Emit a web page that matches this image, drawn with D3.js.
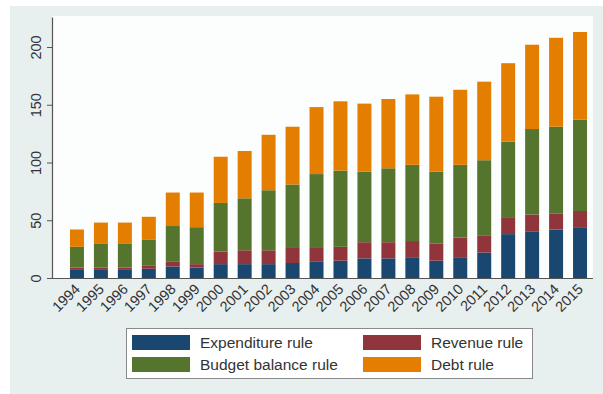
<!DOCTYPE html>
<html>
<head>
<meta charset="utf-8">
<script src="https://cdn.jsdelivr.net/npm/d3@7"></script>
<style>
  body { margin: 0; background: #ffffff; }
  svg { display: block; font-family: "Liberation Sans", Arial, sans-serif; }
</style>
</head>
<body>
<div class="chart"></div>
<script>
// Data (number of fiscal rules by type)
const years = ["1994", "1995", "1996", "1997", "1998", "1999", "2000", "2001", "2002", "2003", "2004",
  "2005", "2006", "2007", "2008", "2009", "2010", "2011", "2012", "2013", "2014", "2015"];
const expenditureRule = [7, 7, 7, 8, 10, 9, 12, 12, 12, 13, 14, 15, 17, 17, 18, 15, 18, 22, 38, 40, 42, 44];
const revenueRule = [2, 2, 2, 3, 4, 3, 11, 12, 12, 13, 12, 12, 14, 14, 14, 15, 17, 15, 14, 15, 14, 14];
const budgetBalanceRule = [18, 21, 21, 22, 31, 32, 42, 45, 52, 55, 64, 66, 61, 64, 66, 62, 63, 65, 66, 74, 75, 79];
const debtRule = [15, 18, 18, 20, 29, 30, 40, 41, 48, 50, 58, 60, 59, 60, 61, 65, 65, 68, 68, 73, 77, 76];
const yTicks = [0, 50, 100, 150, 200];

const seriesNames = ["Expenditure rule", "Revenue rule", "Budget balance rule", "Debt rule"];
const seriesColors = ["#1a476f", "#90353b", "#55752f", "#e37e00"];

// Build a table for d3.stack
const table = years.map((yr, i) => ({
  year: yr,
  "Expenditure rule": expenditureRule[i],
  "Revenue rule": revenueRule[i],
  "Budget balance rule": budgetBalanceRule[i],
  "Debt rule": debtRule[i]
}));

const width = 603, height = 394;
const plot = { left: 52, right: 593, top: 16, bottom: 278 };

const svg = d3.select(".chart")
  .append("svg")
  .attr("width", width)
  .attr("height", height);

// Graph region and plot region backgrounds
svg.append("rect")
  .attr("x", 10).attr("y", 6)
  .attr("width", width - 10).attr("height", height - 6)
  .attr("fill", "#e8efef");
svg.append("rect")
  .attr("x", plot.left).attr("y", plot.top)
  .attr("width", plot.right - plot.left).attr("height", plot.bottom - plot.top)
  .attr("fill", "#fcfefe");

// Scales
const x = d3.scaleBand()
  .domain(years)
  .range([60, 597])
  .padding(0.416);

const y = d3.scaleLinear()
  .domain([0, 226])
  .range([plot.bottom, plot.top + 1]);

const color = d3.scaleOrdinal().domain(seriesNames).range(seriesColors);

// Stacked bars
const stacked = d3.stack().keys(seriesNames)(table);

svg.append("g")
  .selectAll("g")
  .data(stacked)
  .join("g")
  .attr("fill", d => color(d.key))
  .selectAll("rect")
  .data(d => d)
  .join("rect")
  .attr("x", d => x(d.data.year))
  .attr("y", d => y(d[1]))
  .attr("width", x.bandwidth())
  .attr("height", d => y(d[0]) - y(d[1]));

// Y axis
const yAxis = svg.append("g")
  .attr("transform", `translate(${plot.left},0)`)
  .call(d3.axisLeft(y).tickValues(yTicks).tickSize(5).tickPadding(5).tickSizeOuter(0));
yAxis.select(".domain").attr("stroke", "#555").attr("stroke-width", 1.2);
yAxis.selectAll(".tick line").attr("stroke", "#555");
yAxis.selectAll(".tick text")
  .attr("font-size", 14.5)
  .attr("fill", "#333")
  .attr("text-anchor", "middle")
  .attr("x", 0)
  .attr("y", 0)
  .attr("dy", 0)
  .attr("transform", "translate(-11,0) rotate(-90)");

// X axis
const xAxis = svg.append("g")
  .attr("transform", `translate(0,${plot.bottom})`)
  .call(d3.axisBottom(x).tickSize(0).tickSizeOuter(0));
xAxis.select(".domain")
  .attr("d", `M${plot.left},0.5H${plot.right}`)
  .attr("stroke", "#555").attr("stroke-width", 1.2);
xAxis.selectAll(".tick text")
  .attr("font-size", 14.5)
  .attr("fill", "#333")
  .attr("text-anchor", "end")
  .attr("y", 0)
  .attr("dy", 0)
  .attr("transform", "translate(4,12) rotate(-45)");

// Legend
const legend = svg.append("g");
legend.append("rect")
  .attr("x", 126.5).attr("y", 328.5)
  .attr("width", 406).attr("height", 50)
  .attr("fill", "#ffffff")
  .attr("stroke", "#8a8a8a");

const legendOrder = ["Expenditure rule", "Revenue rule", "Budget balance rule", "Debt rule"];
const legendCol = [132, 363];
const legendRow = [335, 357];

legendOrder.forEach((name, i) => {
  const cx = legendCol[i % 2];
  const cy = legendRow[Math.floor(i / 2)];
  legend.append("rect")
    .attr("x", cx).attr("y", cy)
    .attr("width", 58).attr("height", 15)
    .attr("fill", color(name));
  legend.append("text")
    .attr("x", cx + 68).attr("y", cy + 13)
    .attr("font-size", 15.5)
    .attr("fill", "#333")
    .text(name);
});
</script>
</body>
</html>
